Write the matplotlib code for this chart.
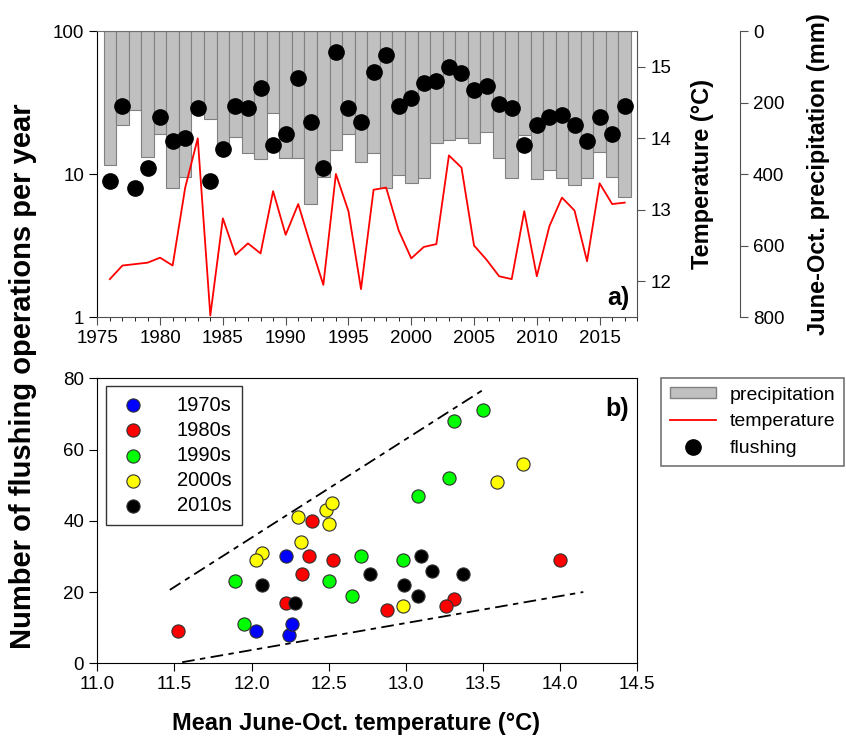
"""Flushing operations vs. summer temperature and precipitation, 1976-2017."""

import matplotlib

matplotlib.use("Agg")
import matplotlib.pyplot as plt
import numpy as np
from matplotlib.lines import Line2D
from matplotlib.patches import Patch
from matplotlib.ticker import FixedLocator, MultipleLocator, NullLocator, FixedFormatter

plt.rcParams["font.family"] = ["Liberation Sans", "DejaVu Sans"]

YEARS = np.arange(1976, 2018)
FLUSHING = [9, 30, 8, 11, 25, 17, 18, 29, 9, 15,
            30, 29, 40, 16, 19, 47, 23, 11, 71, 29,
            23, 52, 68, 30, 34, 43, 45, 56, 51, 39,
            41, 31, 29, 16, 22, 25, 26, 22, 17, 25,
            19, 30]
TEMPERATURE = [12.03, 12.22, 12.24, 12.26, 12.33, 12.22, 13.31, 14.00, 11.52, 12.88,
               12.37, 12.53, 12.39, 13.26, 12.65, 13.08, 12.50, 11.95, 13.50, 12.98,
               11.89, 13.28, 13.31, 12.71, 12.32, 12.48, 12.52, 13.76, 13.59, 12.50,
               12.30, 12.07, 12.03, 12.98, 12.07, 12.77, 13.17, 12.99, 12.28, 13.37,
               13.08, 13.10]
PRECIP = [374, 262, 221, 353, 287, 438, 407, 215, 247, 315,
          296, 341, 358, 229, 356, 356, 485, 407, 334, 288,
          365, 341, 440, 402, 425, 411, 312, 306, 299, 312,
          282, 355, 412, 290, 414, 389, 411, 430, 412, 339,
          409, 464]

DECADES = ["1970s", "1980s", "1990s", "2000s", "2010s"]
DECADE_COLORS = ["#0000ff", "#ff0000", "#00ff00", "#ffff00", "#000000"]

# envelope lines in panel b
UPPER_T = [11.47, 13.51]
UPPER_N = [20.6, 77.0]
LOWER_T = [11.55, 14.15]
LOWER_N = [0.3, 20.0]

TICK_SIZE = 13.5
LABEL_SIZE = 17
SPINE_GREY = "#505050"

fig = plt.figure(figsize=(8.46, 7.44), dpi=100)

# ---- panel a ----
ax_a = fig.add_axes([0.1150, 0.5739, 0.6383, 0.3844])
ax_p = ax_a.twinx()
ax_t = ax_a.twinx()
ax_p.set_zorder(1)
ax_t.set_zorder(2)
ax_a.set_zorder(3)
ax_a.patch.set_visible(False)
ax_t.patch.set_visible(False)

ax_p.bar(YEARS, PRECIP, width=1.0, color="#c0c0c0", edgecolor="#808080", linewidth=0.8)
ax_p.set_ylim(800, 0)
ax_p.yaxis.set_major_locator(MultipleLocator(200))
for side in ["left", "top", "bottom"]:
    ax_p.spines[side].set_visible(False)
ax_p.spines["right"].set_position(("axes", 1.19))
ax_p.spines["right"].set_color(SPINE_GREY)
ax_p.tick_params(axis="y", direction="out", length=6, labelsize=TICK_SIZE, color=SPINE_GREY)
ax_p.set_ylabel("June-Oct. precipitation (mm)", fontsize=LABEL_SIZE, fontweight="bold",
                labelpad=16)

ax_t.plot(YEARS, TEMPERATURE, color="#ff0000", linewidth=1.3)
ax_t.set_ylim(11.5, 15.5)
ax_t.yaxis.set_major_locator(FixedLocator([12, 13, 14, 15]))
for side in ["left", "top", "bottom"]:
    ax_t.spines[side].set_visible(False)
ax_t.spines["right"].set_color(SPINE_GREY)
ax_t.tick_params(axis="y", direction="out", length=6, labelsize=TICK_SIZE, color=SPINE_GREY)
ax_t.set_ylabel("Temperature (°C)", fontsize=LABEL_SIZE, fontweight="bold", labelpad=14)

ax_a.plot(YEARS, FLUSHING, "o", color="black", markersize=11, linestyle="none")
ax_a.set_yscale("log")
ax_a.set_ylim(1, 100)
ax_a.set_xlim(1975, 2018)
ax_a.yaxis.set_major_locator(FixedLocator([1, 10, 100]))
ax_a.yaxis.set_major_formatter(FixedFormatter(["1", "10", "100"]))
ax_a.yaxis.set_minor_locator(NullLocator())
ax_a.xaxis.set_major_locator(MultipleLocator(5))
ax_a.xaxis.set_minor_locator(MultipleLocator(1))
ax_a.tick_params(axis="both", which="major", direction="out", length=6, labelsize=TICK_SIZE)
ax_a.tick_params(axis="x", which="minor", direction="out", length=3)
ax_a.tick_params(axis="x", colors=SPINE_GREY, labelcolor="black")
ax_a.spines["right"].set_visible(False)
ax_a.spines["top"].set_color("#707070")
ax_a.spines["bottom"].set_color(SPINE_GREY)
ax_a.text(0.985, 0.025, "a)", transform=ax_a.transAxes, ha="right", va="bottom",
          fontsize=18, fontweight="bold")

# ---- panel b ----
ax_b = fig.add_axes([0.1150, 0.1085, 0.6383, 0.3831])
decade_idx = (YEARS // 10) - 197
temps = np.array(TEMPERATURE)
flush = np.array(FLUSHING)
for i, (label, color) in enumerate(zip(DECADES, DECADE_COLORS)):
    sel = decade_idx == i
    ax_b.scatter(temps[sel], flush[sel], s=90, c=color, edgecolors="#303030",
                 linewidths=0.8, label=label, zorder=3)

ax_b.plot(UPPER_T, UPPER_N, color="black", linewidth=1.3, dashes=(7, 3, 3, 3))
ax_b.plot(LOWER_T, LOWER_N, color="black", linewidth=1.3, dashes=(7, 3, 3, 3))

ax_b.set_xlim(11.0, 14.5)
ax_b.set_ylim(0, 80)
ax_b.xaxis.set_major_locator(MultipleLocator(0.5))
ax_b.yaxis.set_major_locator(MultipleLocator(20))
ax_b.xaxis.set_major_formatter(matplotlib.ticker.FormatStrFormatter("%.1f"))
ax_b.tick_params(axis="both", direction="out", length=6, labelsize=TICK_SIZE)
ax_b.set_xlabel("Mean June-Oct. temperature (°C)", fontsize=LABEL_SIZE, fontweight="bold",
                labelpad=14)
ax_b.xaxis.set_label_coords(0.48, -0.17)
ax_b.text(0.985, 0.935, "b)", transform=ax_b.transAxes, ha="right", va="top",
          fontsize=18, fontweight="bold")

leg_b = ax_b.legend(loc="upper left", bbox_to_anchor=(0.017, 0.974), borderaxespad=0,
                    fontsize=14.5, frameon=True, fancybox=False, edgecolor="black",
                    handletextpad=1.4, labelspacing=0.3, borderpad=0.5, handlelength=1.6)
leg_b.get_frame().set_linewidth(1.0)

fig.text(0.027, 1 - 376 / 744, "Number of flushing operations per year", rotation=90,
         ha="center", va="center", fontsize=21, fontweight="bold")

handles = [
    Patch(facecolor="#c0c0c0", edgecolor="#808080"),
    Line2D([], [], color="#ff0000", linewidth=1.3),
    Line2D([], [], color="black", marker="o", markersize=11, linestyle="none"),
]
leg = fig.legend(handles, ["precipitation", "temperature", "flushing"],
                 loc="upper left", bbox_to_anchor=(661 / 846, 1 - 378 / 744),
                 borderaxespad=0, fontsize=14, fancybox=False, edgecolor=SPINE_GREY,
                 handlelength=2.4, handleheight=0.5, labelspacing=0.5, borderpad=0.45,
                 handletextpad=0.7)
leg.get_frame().set_linewidth(1.2)

fig.savefig("out.png", dpi=100)
